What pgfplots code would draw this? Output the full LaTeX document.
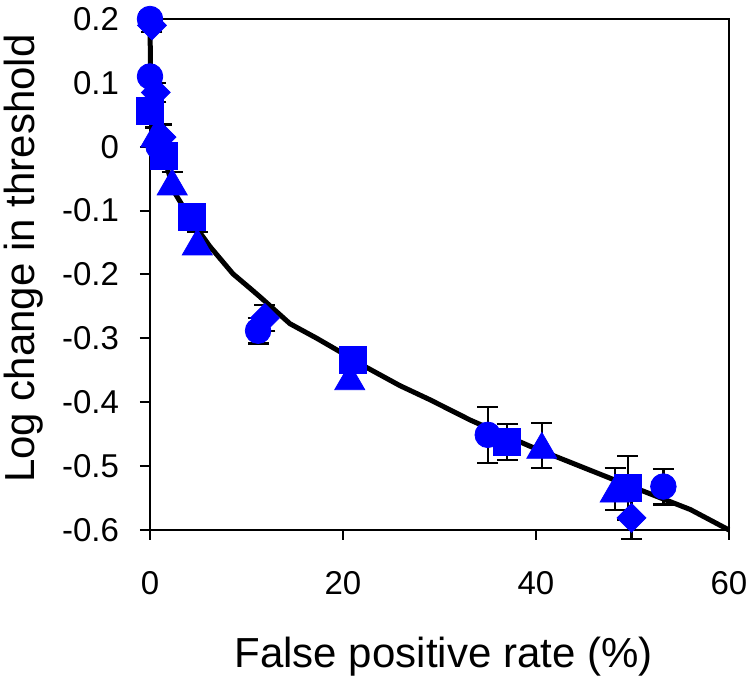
\documentclass[border=0pt]{standalone}
\usepackage{pgfplots}
\pgfplotsset{compat=1.18}
\usepackage{fontspec}
\setmainfont{Liberation Sans}
\definecolor{mblue}{RGB}{0,0,255}
\pgfplotsset{
  ebar/.style={error bars/.cd, y dir=both, y explicit,
    error bar style={black, line width=1.15pt},
    error mark options={black, line width=1.15pt, mark size=5.25pt, rotate=90}},
}
\begin{document}
\begin{tikzpicture}
\begin{axis}[name=ax, scale only axis, width=289.5pt, height=255.5pt,
  xmin=0, xmax=60, ymin=-0.6, ymax=0.2,
  xtick={0,20,40,60}, xticklabels={0,20,40,60},
  ytick={-0.6,-0.5,-0.4,-0.3,-0.2,-0.1,0,0.1,0.2},
  yticklabels={-0.6,-0.5,-0.4,-0.3,-0.2,-0.1,0,0.1,0.2},
  tick align=outside, tick pos=left, major tick length=5pt,
  tick style={black, line width=1pt},
  axis line style={black, line width=1pt},
  ticklabel style={font=\fontsize{16.5}{18}\selectfont},
  xticklabel style={yshift=-12pt},
  yticklabel style={xshift=-7pt},
  label style={font=\fontsize{21}{24}\selectfont},
  xlabel={False positive rate (\%)},
  ylabel={Log change in threshold},
  xlabel style={at={(axis description cs:0.507,-0.248)}, anchor=center},
  ylabel style={at={(axis description cs:-0.218,0.531)}, anchor=center},
  clip=false,
]
% diamonds
\addplot[only marks, mark=square*, mark size=5.1pt,
  mark options={rotate=45, fill=mblue, draw=mblue}, ebar]
  table[y error=e] {
x y e
0.2 0.19 0.01
0.6 0.085 0.015
1.2 0.015 0.02
11.9 -0.268 0.02
49.9 -0.581 0.033
};
% fitted curve
\addplot[black, line width=2.5pt, no marks, line join=round] table {
x y
0 0.2
0.05 0.12
0.5 0.05
1.3 -0.01
2.6 -0.073
4.4 -0.118
6.2 -0.156
8.6 -0.199
10.4 -0.222
11.4 -0.235
14.5 -0.277
17.3 -0.300
19.7 -0.321
22.5 -0.346
25.9 -0.374
29.0 -0.396
33.2 -0.428
39.4 -0.469
47.7 -0.519
56.0 -0.568
60.0 -0.600
};
% circles
\addplot[only marks, mark=*, mark size=6.4pt,
  mark options={fill=mblue, draw=mblue}, ebar]
  table[y error=e] {
x y e
0 0.2 0.01
0 0.11 0.01
0.9 0.0 0.01
11.2 -0.288 0.02
35.0 -0.451 0.044
53.2 -0.532 0.028
};
% squares
\addplot[only marks, mark=square*, mark size=6.75pt,
  mark options={fill=mblue, draw=mblue}, ebar]
  table[y error=e] {
x y e
0 0.056 0.015
1.4 -0.014 0.02
4.35 -0.11 0.015
21.0 -0.333 0.01
37.0 -0.462 0.028
49.5 -0.534 0.05
};
% triangles
\addplot[only marks, mark=triangle*, mark size=8.65pt,
  mark options={fill=mblue, draw=mblue, yshift=-2.16pt}, ebar]
  table[y error=e] {
x y e
0.6 0.02 0.01
2.3 -0.055 0.015
4.9 -0.149 0.015
20.7 -0.36 0.01
40.6 -0.4675 0.035
48.2 -0.536 0.033
};
\end{axis}
\pgfresetboundingbox
\path (ax.south west) ++(-75pt,-74.5pt) rectangle ++(375pt,339.5pt);
\end{tikzpicture}
\end{document}
